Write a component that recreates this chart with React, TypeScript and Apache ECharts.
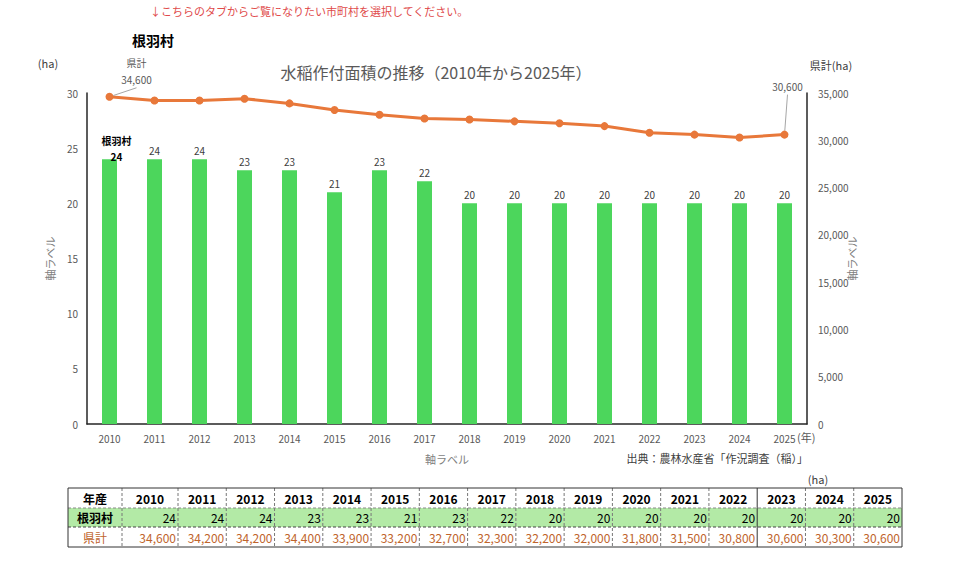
import React, { useEffect, useRef } from "react";
import * as echarts from "echarts";

const years = ["2010","2011","2012","2013","2014","2015","2016","2017","2018","2019","2020","2021","2022","2023","2024","2025"];
const villageValues = [24,24,24,23,23,21,23,22,20,20,20,20,20,20,20,20];
const prefValues = [34600,34200,34200,34400,33900,33200,32700,32300,32200,32000,31800,31500,30800,30600,30300,30600];
const leftTicks = { min: 0, max: 30, interval: 5 };
const rightTicks = { min: 0, max: 35000, interval: 5000 };
const villageName = "根羽村";
const prefName = "県計";
const tableHeader = "年産";

const FONT = "'Noto Sans CJK JP', 'Noto Sans', sans-serif";
const fmt = (v: number) => v.toLocaleString("en-US");

function buildTable(): any[] {
  const els: any[] = [];
  const x0 = 68, x1 = 122, x2 = 178, xEnd = 902;
  const colW = (xEnd - x2) / 15;
  const bounds = [x0, x1];
  for (let i = 0; i <= 15; i++) bounds.push(x2 + colW * i);
  const y0 = 488, y1 = 508, y2 = 527, y3 = 547;
  els.push({ type: "rect", shape: { x: x0, y: y0, width: xEnd - x0, height: y1 - y0 }, style: { fill: "#ffffff" } });
  els.push({ type: "rect", shape: { x: x0, y: y1, width: xEnd - x0, height: y2 - y1 }, style: { fill: "#b3eaa6" } });
  els.push({ type: "rect", shape: { x: x0, y: y2, width: xEnd - x0, height: y3 - y2 }, style: { fill: "#ffffff" } });
  for (let i = 1; i < bounds.length - 1; i++) {
    const solid = i === 14;
    els.push({ type: "line", shape: { x1: bounds[i], y1: y0, x2: bounds[i], y2: y3 },
      style: { stroke: solid ? "#333" : "#777", lineWidth: 1, lineDash: solid ? null : [3, 2] } });
  }
  els.push({ type: "line", shape: { x1: x0, y1: y1, x2: xEnd, y2: y1 }, style: { stroke: "#888", lineWidth: 1, lineDash: [3, 2] } });
  els.push({ type: "line", shape: { x1: x0, y1: y2, x2: xEnd, y2: y2 }, style: { stroke: "#444", lineWidth: 1, lineDash: [3, 2] } });
  els.push({ type: "rect", shape: { x: x0, y: y0, width: xEnd - x0, height: y3 - y0 }, style: { fill: "none", stroke: "#333", lineWidth: 1 } });
  const mid = (a: number, b: number) => (a + b) / 2;
  els.push({ type: "text", x: mid(x0, x1), y: mid(y0, y1), style: { text: tableHeader, font: `bold 12px ${FONT}`, fill: "#000", align: "center", verticalAlign: "middle" } });
  els.push({ type: "text", x: mid(x0, x1), y: mid(y1, y2), style: { text: villageName, font: `bold 12px ${FONT}`, fill: "#000", align: "center", verticalAlign: "middle" } });
  els.push({ type: "text", x: mid(x0, x1), y: mid(y2, y3), style: { text: prefName, font: `12px ${FONT}`, fill: "#c0642c", align: "center", verticalAlign: "middle" } });
  years.forEach((yr, i) => {
    const a = bounds[i + 1], b = bounds[i + 2];
    els.push({ type: "text", x: mid(a, b), y: mid(y0, y1), style: { text: yr, font: `bold 12px ${FONT}`, fill: "#000", align: "center", verticalAlign: "middle" } });
    els.push({ type: "text", x: b - 2, y: mid(y1, y2), style: { text: String(villageValues[i]), font: `12px ${FONT}`, fill: "#000", align: "right", verticalAlign: "middle" } });
    els.push({ type: "text", x: b - 2, y: mid(y2, y3), style: { text: fmt(prefValues[i]), font: `12px ${FONT}`, fill: "#c0642c", align: "right", verticalAlign: "middle" } });
  });
  els.push({ type: "text", x: 818, y: 479, style: { text: "(ha)", font: `11px ${FONT}`, fill: "#404040", align: "center", verticalAlign: "middle" } });
  return els;
}

export default function App() {
  const ref = useRef<HTMLDivElement>(null);
  useEffect(() => {
    if (!ref.current) return;
    const chart = echarts.init(ref.current, null, { renderer: "svg" });
    const last = prefValues.length - 1;
    const option: any = {
      animation: false,
      backgroundColor: "#ffffff",
      textStyle: { fontFamily: FONT },
      grid: { left: 87, right: 153, top: 93, bottom: 144 },
      xAxis: {
        type: "category",
        data: years,
        axisLine: { show: true, lineStyle: { color: "#262626", width: 1.5 } },
        axisTick: { show: false },
        axisLabel: { color: "#595959", fontSize: 10, margin: 9 },
        name: "軸ラベル",
        nameLocation: "middle",
        nameGap: 29,
        nameMoveOverlap: false,
        nameTextStyle: { color: "#7f7f7f", fontSize: 11 },
      },
      yAxis: [
        {
          type: "value",
          min: leftTicks.min, max: leftTicks.max, interval: leftTicks.interval,
          axisLine: { show: true, lineStyle: { color: "#262626", width: 1.5 } },
          axisTick: { show: false },
          splitLine: { show: false },
          axisLabel: { color: "#595959", fontSize: 10, margin: 9 },
          name: "軸ラベル",
          nameLocation: "middle",
          nameGap: 32,
          nameRotate: 90,
          nameMoveOverlap: false,
          nameTextStyle: { color: "#7f7f7f", fontSize: 11 },
        },
        {
          type: "value",
          position: "right",
          min: rightTicks.min, max: rightTicks.max, interval: rightTicks.interval,
          axisLine: { show: true, lineStyle: { color: "#262626", width: 1.5 } },
          axisTick: { show: false },
          splitLine: { show: false },
          axisLabel: { color: "#595959", fontSize: 10, margin: 11, formatter: (v: number) => fmt(v) },
          name: "軸ラベル",
          nameLocation: "middle",
          nameGap: 39,
          nameRotate: 90,
          nameMoveOverlap: false,
          nameTextStyle: { color: "#7f7f7f", fontSize: 11 },
        },
      ],
      series: [
        {
          type: "bar",
          yAxisIndex: 0,
          barWidth: 15,
          itemStyle: { color: "#4cd65c" },
          label: { show: true, position: "top", distance: 4, color: "#404040", fontSize: 10 },
          data: villageValues.map((v, i) =>
            i === 0
              ? {
                  value: v,
                  label: {
                    formatter: `${villageName}\n{c}`,
                    fontWeight: "bold",
                    color: "#000",
                    lineHeight: 16,
                    distance: -5,
                    offset: [7, 0],
                  },
                }
              : v
          ),
          z: 2,
        },
        {
          type: "line",
          yAxisIndex: 1,
          symbol: "circle",
          symbolSize: 8,
          lineStyle: { color: "#e8783a", width: 3 },
          itemStyle: { color: "#e8783a" },
          label: {
            show: false,
            position: "top",
            color: "#595959",
            fontSize: 10,
            lineHeight: 17,
            formatter: (p: any) => (p.dataIndex === 0 ? `${prefName}\n${fmt(p.value)}` : fmt(p.value)),
          },
          labelLine: { show: true, lineStyle: { color: "#a6a6a6", width: 1 } },
          labelLayout: (p: any) =>
            p.dataIndex === 0 ? { dx: 27, dy: 0 } : p.dataIndex === last ? { dx: 3, dy: -31 } : {},
          data: prefValues.map((v, i) => (i === 0 || i === last ? { value: v, label: { show: true } } : v)),
          z: 3,
        },
      ],
      graphic: [
        { type: "text", x: 150, y: 11, style: { text: "↓こちらのタブからご覧になりたい市町村を選択してください。", font: `11px ${FONT}`, fill: "#e04a4a", align: "left", verticalAlign: "middle" } },
        { type: "text", x: 153, y: 40, style: { text: villageName, font: `bold 14px ${FONT}`, fill: "#000", align: "center", verticalAlign: "middle" } },
        { type: "text", x: 436, y: 72, style: { text: "水稲作付面積の推移（2010年から2025年）", font: `16px ${FONT}`, fill: "#595959", align: "center", verticalAlign: "middle" } },
        { type: "text", x: 48, y: 63, style: { text: "(ha)", font: `11px ${FONT}`, fill: "#404040", align: "center", verticalAlign: "middle" } },
        { type: "text", x: 831, y: 65, style: { text: "県計(ha)", font: `11px ${FONT}`, fill: "#404040", align: "center", verticalAlign: "middle" } },
        { type: "text", x: 797, y: 437, style: { text: "(年)", font: `11px ${FONT}`, fill: "#595959", align: "left", verticalAlign: "middle" } },
        { type: "text", x: 808, y: 458, style: { text: "出典：農林水産省「作況調査（稲）」", font: `11px ${FONT}`, fill: "#404040", align: "right", verticalAlign: "middle" } },
        ...buildTable(),
      ],
    };
    chart.setOption(option);
    return () => chart.dispose();
  }, []);
  return <div ref={ref} style={{ position: "fixed", left: 0, top: 0, width: 960, height: 568 }} />;
}
